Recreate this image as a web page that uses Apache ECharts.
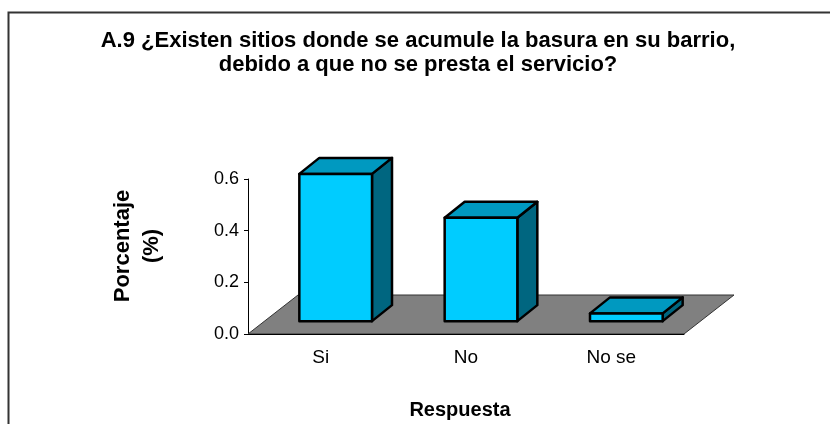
<!DOCTYPE html>
<html>
<head>
<meta charset="utf-8">
<script src="https://cdn.jsdelivr.net/npm/echarts@6/dist/echarts.min.js"></script>
<style>
  html, body { margin: 0; padding: 0; background: #fff; }
  #chart { width: 830px; height: 424px; }
</style>
</head>
<body>
<div id="chart"></div>
<script>
  const categories = ['Si', 'No', 'No se'];
  const values = [0.57, 0.40, 0.03];
  const yTicks = [0, 0.2, 0.4, 0.6];

  const FONT = '"Liberation Sans", Arial, sans-serif';
  // profundidad del piso 3D (px)
  const DX = 50, DY = 39;

  const chart = echarts.init(document.getElementById('chart'));

  const option = {
    animation: false,
    grid: { left: 248, right: 146, top: 179, bottom: 90 },
    xAxis: {
      type: 'category',
      data: categories,
      axisLine: { lineStyle: { color: '#000', width: 1 } },
      axisTick: { length: 5, lineStyle: { color: '#000' } },
      axisLabel: { color: '#000', fontSize: 19, fontFamily: FONT, margin: 14 },
      z: 5
    },
    yAxis: {
      type: 'value',
      min: 0,
      max: 0.6,
      interval: 0.2,
      splitLine: { show: false },
      axisLine: { show: true, lineStyle: { color: '#000', width: 1 } },
      axisTick: { show: true, length: 4, lineStyle: { color: '#000' } },
      axisLabel: {
        color: '#000', fontSize: 18, fontFamily: FONT, margin: 9,
        formatter: v => yTicks.includes(+v.toFixed(1)) ? v.toFixed(1) : ''
      }
    },
    graphic: [
      {
        type: 'rect', left: 6, top: 10,
        shape: { width: 840, height: 430 },
        style: { fill: 'none', stroke: '#333', lineWidth: 2 }
      },
      {
        type: 'text', x: 418, y: 53,
        style: {
          text: 'A.9 ¿Existen sitios donde se acumule la basura en su barrio,\ndebido a que no se presta el servicio?',
          fontSize: 22, fontWeight: 'bold', fontFamily: FONT, fill: '#000',
          align: 'center', verticalAlign: 'middle', lineHeight: 24
        }
      },
      {
        type: 'text', x: 137, y: 246, rotation: Math.PI / 2,
        style: {
          text: 'Porcentaje\n(%)',
          fontSize: 22, fontWeight: 'bold', fontFamily: FONT, fill: '#000',
          align: 'center', verticalAlign: 'middle', lineHeight: 29
        }
      },
      {
        type: 'text', x: 460, y: 410,
        style: {
          text: 'Respuesta',
          fontSize: 20, fontWeight: 'bold', fontFamily: FONT, fill: '#000',
          align: 'center', verticalAlign: 'middle'
        }
      }
    ],
    series: [
      {
        // piso gris
        type: 'custom',
        data: [[0, 0]],
        clip: false,
        z: 1,
        silent: true,
        renderItem: function (params, api) {
          const cs = params.coordSys;
          const x0 = cs.x, x1 = cs.x + cs.width, y0 = cs.y + cs.height;
          return {
            type: 'polygon',
            shape: { points: [[x0, y0], [x1, y0], [x1 + DX, y0 - DY], [x0 + DX, y0 - DY]] },
            style: { fill: '#808080', stroke: '#333', lineWidth: 1 }
          };
        }
      },
      {
        type: 'custom',
        data: values.map((v, i) => [i, v]),
        clip: false,
        z: 3,
        renderItem: function (params, api) {
          const base = api.coord([api.value(0), 0]);
          const top = api.coord([api.value(0), api.value(1)]);
          const band = api.size([1, 0])[0];
          const w = band * 0.5;
          const ox = DX * 0.3, oy = DY * 0.33;
          const bx = DX * 0.4, by = DY * 0.41;
          const x0 = base[0] - w / 2 + ox, x1 = x0 + w;
          const yB = base[1] - oy, yT = top[1] - oy;
          const line = { stroke: '#000', lineWidth: 2.5, lineJoin: 'round' };
          return {
            type: 'group',
            children: [
              {
                type: 'polygon',
                shape: { points: [[x1, yT], [x1 + bx, yT - by], [x1 + bx, yB - by], [x1, yB]] },
                style: Object.assign({ fill: '#006680' }, line)
              },
              {
                type: 'polygon',
                shape: { points: [[x0, yT], [x1, yT], [x1 + bx, yT - by], [x0 + bx, yT - by]] },
                style: Object.assign({ fill: '#0099c0' }, line)
              },
              {
                type: 'rect',
                shape: { x: x0, y: yT, width: w, height: yB - yT },
                style: Object.assign({ fill: '#00ccff' }, line)
              }
            ]
          };
        }
      }
    ]
  };

  chart.setOption(option);
</script>
</body>
</html>
